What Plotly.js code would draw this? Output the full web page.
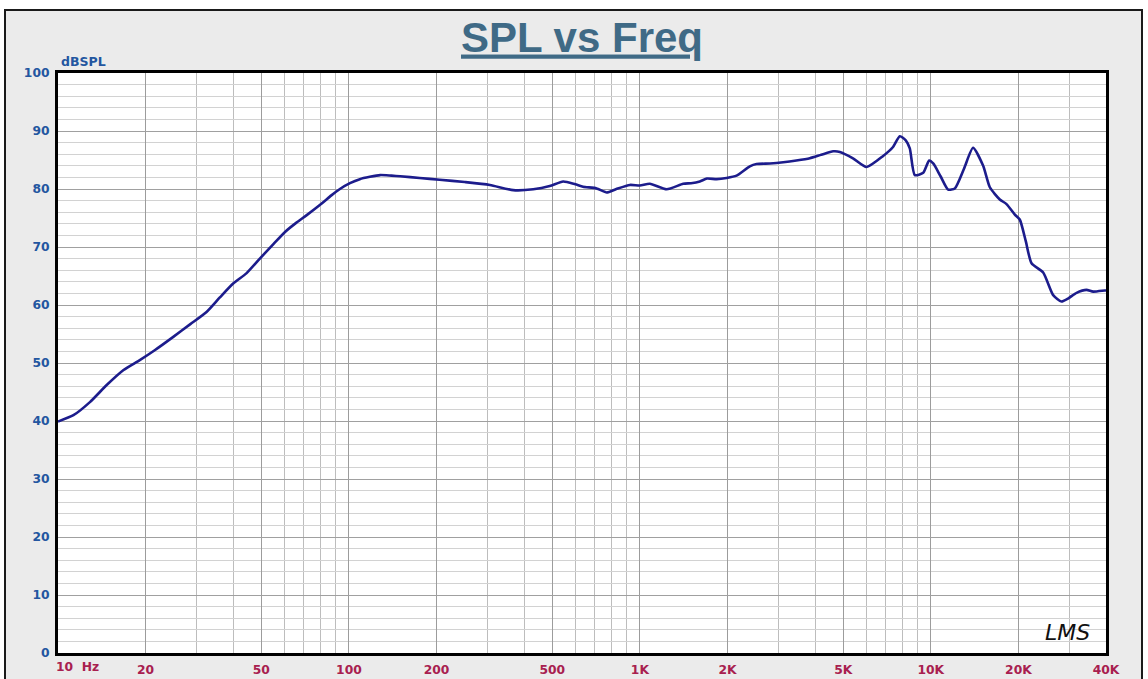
<!DOCTYPE html>
<html>
<head>
<meta charset="utf-8">
<script src="https://cdn.plot.ly/plotly-3.0.1.min.js"></script>
<style>
  html, body { margin: 0; padding: 0; background: #ffffff; overflow: hidden; width: 1148px; height: 679px; }
  #frame { position: absolute; left: 4px; top: 9px; width: 1135px; height: 680px; border: 2px solid #1a1a1a; background: #ebebeb; }
  #plot { width: 1135px; height: 680px; }
</style>
</head>
<body>
<div id="frame"><div id="plot"></div></div>
<script>
// Frequency (Hz)
const freq = [10, 11.3, 12.9, 14.7, 16.8, 19.1, 21.5, 24.9, 28.5, 32.4, 36, 40, 44.5, 49.4, 55, 60.3, 66, 71.6, 80.6, 87, 93.1,
  100.8, 109, 118, 128, 140, 150, 175, 205, 250, 305, 367, 430, 490, 545, 600, 638, 710, 769, 830, 924,
  1000, 1082, 1236, 1409, 1500, 1607, 1700, 1836, 1986, 2149, 2387, 2518, 2800, 3110, 3450, 3838, 4200, 4617, 4867, 5400,
  6010, 6855, 7400, 7823, 8200, 8466, 8810, 9416, 9868, 10190, 10800, 11470, 12090, 13000, 13970, 15130, 15950,
  17260, 18200, 19440, 20230, 21200, 22190, 24330, 26330, 28120, 29800, 31690, 34270, 36140, 39630, 40000];
// SPL (dB)
const spl = [39.9, 41.0, 43.3, 46.2, 48.8, 50.5, 52.2, 54.5, 56.7, 58.8, 61.3, 63.7, 65.5, 68.0, 70.5, 72.6, 74.2, 75.5, 77.5, 78.9, 80.0,
  81.0, 81.7, 82.1, 82.4, 82.3, 82.2, 81.9, 81.6, 81.2, 80.7, 79.8, 79.95, 80.5, 81.3, 80.8, 80.4, 80.1, 79.4, 80.0, 80.7,
  80.6, 80.9, 79.95, 80.9, 81.0, 81.3, 81.8, 81.7, 81.9, 82.3, 83.9, 84.3, 84.4, 84.6, 84.9, 85.3, 85.9, 86.5, 86.4, 85.3,
  83.8, 85.7, 87.2, 89.1, 88.4, 87.0, 82.4, 82.8, 84.9, 84.4, 82.2, 79.9, 80.1, 83.5, 87.1, 84.0, 80.3,
  78.2, 77.4, 75.6, 74.7, 71.0, 67.2, 65.6, 61.7, 60.6, 61.2, 62.1, 62.6, 62.3, 62.5, 62.5];

// Tick labels
const xTickVals = [20, 50, 100, 200, 500, 1000, 2000, 5000, 10000, 20000, 40000];
const xTickText = ['20', '50', '100', '200', '500', '1K', '2K', '5K', '10K', '20K', '40K'];
const yTickVals = [0, 10, 20, 30, 40, 50, 60, 70, 80, 90, 100];

// Grid multiples within each decade
const decades = [10, 100, 1000, 10000];
const intMult = [2, 3, 4, 5, 6, 7, 8, 9, 10];
const halfMult = [1.5, 2.5, 3.5, 4.5, 5.5, 6.5, 7.5, 8.5, 9.5];

const minorInt = [];
decades.forEach(d => intMult.forEach(m => { const f = d * m; if (f <= 40000) minorInt.push(f); }));
const shapes = [];
decades.forEach(d => halfMult.forEach(m => {
  const f = d * m;
  if (f < 40000) {
    const lx = Math.log10(f);
    shapes.push({type: 'line', xref: 'x', yref: 'paper', x0: lx, x1: lx, y0: 0, y1: 1,
      line: {color: '#d6d6d6', width: 1}, layer: 'below'});
  }
}));

const tickFontX = {family: 'DejaVu Sans', size: 12.3, color: '#a8204f', weight: 700};
const tickFontY = {family: 'DejaVu Sans', size: 12.3, color: '#2356a0', weight: 700};

const trace = {
  x: freq, y: spl, type: 'scatter', mode: 'lines',
  line: {color: '#1c1c8c', width: 2.6, shape: 'spline', smoothing: 0.6},
  hoverinfo: 'x+y'
};

const layout = {
  width: 1135, height: 680,
  margin: {l: 52, r: 35, t: 62, b: 38, pad: 0},
  paper_bgcolor: 'rgba(0,0,0,0)',
  plot_bgcolor: '#ffffff',
  showlegend: false,
  title: {
    text: 'SPL vs Freq',
    font: {family: 'Liberation Sans, Arial, sans-serif', size: 42, color: '#3f6a86', weight: 700, lineposition: 'under'},
    x: 0.5, xref: 'paper', xanchor: 'center',
    y: 0.962, yref: 'container', yanchor: 'middle'
  },
  xaxis: {
    type: 'log', range: [1, Math.log10(40000)],
    tickmode: 'array', tickvals: xTickVals, ticktext: xTickText,
    tickfont: tickFontX, ticks: '', ticklabelstandoff: 3,
    showgrid: true, gridcolor: '#9c9c9c', gridwidth: 1,
    minor: {tickmode: 'array', tickvals: minorInt, showgrid: true, gridcolor: '#bdbdbd', gridwidth: 1, ticks: ''},
    showline: true, mirror: true, linecolor: '#000000', linewidth: 3,
    zeroline: false, fixedrange: true
  },
  yaxis: {
    range: [0, 100], tickmode: 'array', tickvals: yTickVals,
    tickfont: tickFontY, ticks: '', ticklabelstandoff: 3,
    showgrid: true, gridcolor: '#a0a0a0', gridwidth: 1,
    minor: {dtick: 2, showgrid: true, gridcolor: '#d2d2d2', gridwidth: 1, ticks: ''},
    showline: true, mirror: true, linecolor: '#000000', linewidth: 3,
    zeroline: false, fixedrange: true
  },
  shapes: shapes,
  annotations: [
    {text: 'dBSPL', xref: 'paper', yref: 'paper', x: 0.001, y: 1.019, xanchor: 'left', yanchor: 'middle',
      showarrow: false, font: {family: 'DejaVu Sans', size: 12.5, color: '#2356a0', weight: 700}},
    {text: '10\u00a0\u00a0Hz', xref: 'paper', yref: 'paper', x: -0.0038, y: -0.0241, xanchor: 'left', yanchor: 'middle',
      showarrow: false, font: tickFontX},
    {text: 'LMS', xref: 'paper', yref: 'paper', x: 0.963, y: 0.036, xanchor: 'center', yanchor: 'middle',
      showarrow: false, font: {family: 'DejaVu Sans', size: 22, color: '#111111', style: 'italic', weight: 300}}
  ]
};

Plotly.newPlot('plot', [trace], layout, {displayModeBar: false, staticPlot: true});
</script>
</body>
</html>
